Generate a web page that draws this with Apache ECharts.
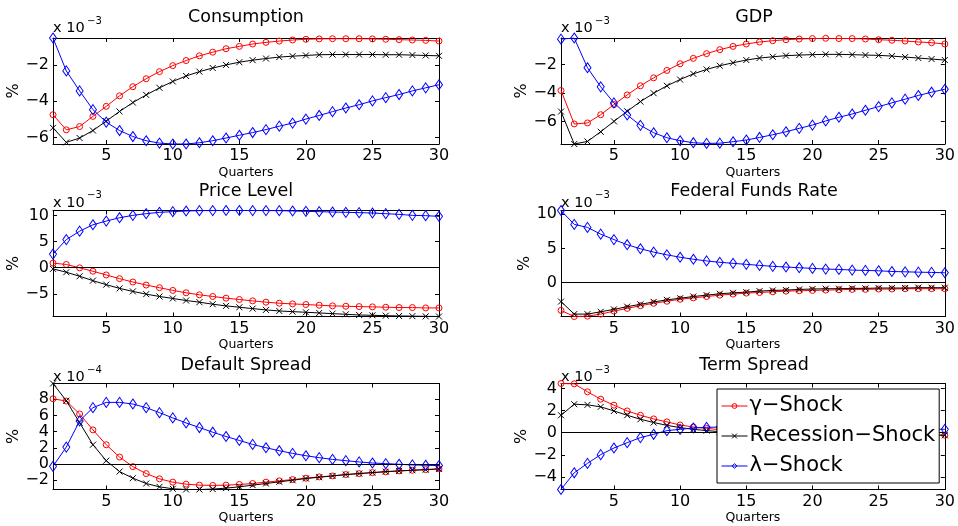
<!DOCTYPE html>
<html>
<head>
<meta charset="utf-8">
<script src="https://cdn.jsdelivr.net/npm/echarts@6/dist/echarts.min.js"></script>
<style>
  html, body { margin: 0; padding: 0; background: #ffffff; }
  #chart { width: 958px; height: 526px; }
</style>
</head>
<body>
<div id="chart"></div>
<script>
// Impulse responses over 30 quarters for three shocks.
const quarters = [1, 2, 3, 4, 5, 6, 7, 8, 9, 10, 11, 12, 13, 14, 15, 16, 17, 18, 19, 20, 21, 22, 23, 24, 25, 26, 27, 28, 29, 30];
const quarterTicks = [5, 10, 15, 20, 25, 30];
const shockNames = ['γ−Shock', 'Recession−Shock', 'λ−Shock'];

// Consumption (x 10^-3 %)
const consGamma = [-4.74, -5.57, -5.39, -4.83, -4.28, -3.70, -3.20, -2.76, -2.37, -2.04, -1.76, -1.50, -1.30, -1.11, -0.98, -0.85, -0.76, -0.69, -0.63, -0.59, -0.57, -0.56, -0.56, -0.56, -0.57, -0.59, -0.61, -0.63, -0.65, -0.69];
const consRecession = [-5.46, -6.26, -6.02, -5.61, -5.09, -4.56, -4.07, -3.65, -3.26, -2.91, -2.61, -2.37, -2.17, -2.00, -1.85, -1.74, -1.65, -1.57, -1.52, -1.48, -1.44, -1.43, -1.43, -1.43, -1.43, -1.44, -1.44, -1.46, -1.48, -1.50];
const consLambda = [-0.52, -2.33, -3.43, -4.46, -5.15, -5.61, -5.94, -6.17, -6.30, -6.35, -6.35, -6.28, -6.17, -6.02, -5.87, -5.72, -5.56, -5.37, -5.20, -4.98, -4.78, -4.57, -4.37, -4.19, -3.98, -3.80, -3.63, -3.43, -3.26, -3.09];
const consTicks = [-6, -4, -2];

// GDP (x 10^-3 %)
const gdpGamma = [-3.81, -6.16, -6.09, -5.51, -4.80, -4.12, -3.48, -2.92, -2.40, -1.93, -1.55, -1.22, -0.94, -0.71, -0.54, -0.40, -0.31, -0.24, -0.19, -0.16, -0.14, -0.16, -0.16, -0.19, -0.24, -0.28, -0.33, -0.40, -0.45, -0.54];
const gdpRecession = [-5.29, -7.57, -7.39, -6.71, -5.98, -5.27, -4.59, -4.00, -3.48, -3.04, -2.64, -2.33, -2.07, -1.86, -1.67, -1.53, -1.44, -1.36, -1.32, -1.29, -1.27, -1.27, -1.29, -1.32, -1.34, -1.39, -1.46, -1.53, -1.60, -1.67];
const gdpLambda = [-0.20, -0.12, -2.21, -3.55, -4.68, -5.53, -6.26, -6.78, -7.13, -7.34, -7.48, -7.53, -7.51, -7.41, -7.29, -7.11, -6.92, -6.71, -6.47, -6.24, -5.95, -5.69, -5.46, -5.20, -4.94, -4.68, -4.42, -4.16, -3.93, -3.72];
const gdpTicks = [-6, -4, -2];

// Price Level (x 10^-3 %)
const priceGamma = [0.86, 0.60, -0.04, -0.69, -1.40, -2.11, -2.75, -3.33, -3.84, -4.36, -4.81, -5.20, -5.52, -5.84, -6.10, -6.36, -6.61, -6.81, -6.94, -7.06, -7.19, -7.32, -7.39, -7.45, -7.51, -7.58, -7.64, -7.64, -7.71, -7.71];
const priceRecession = [-0.24, -0.88, -1.65, -2.49, -3.26, -3.97, -4.55, -5.07, -5.52, -5.90, -6.29, -6.61, -7.00, -7.32, -7.58, -7.84, -8.09, -8.29, -8.42, -8.54, -8.67, -8.80, -8.93, -9.06, -9.12, -9.19, -9.25, -9.28, -9.32, -9.35];
const priceLambda = [2.59, 5.36, 6.97, 8.20, 8.91, 9.55, 10.00, 10.32, 10.58, 10.71, 10.84, 10.90, 10.92, 10.93, 10.93, 10.92, 10.91, 10.90, 10.84, 10.77, 10.71, 10.64, 10.58, 10.52, 10.45, 10.32, 10.19, 10.00, 9.94, 9.81];
const priceTicks = [-5, 0, 5, 10];

// Federal Funds Rate (x 10^-3 %)
const ffrGamma = [-4.06, -4.95, -4.90, -4.60, -4.16, -3.76, -3.37, -3.02, -2.72, -2.43, -2.23, -2.03, -1.83, -1.68, -1.53, -1.44, -1.34, -1.24, -1.19, -1.14, -1.09, -1.04, -0.99, -0.99, -0.94, -0.94, -0.89, -0.89, -0.89, -0.89];
const ffrRecession = [-2.77, -4.60, -4.60, -4.26, -3.91, -3.51, -3.17, -2.82, -2.52, -2.28, -2.03, -1.83, -1.63, -1.49, -1.39, -1.24, -1.14, -1.09, -0.99, -0.94, -0.89, -0.89, -0.84, -0.84, -0.79, -0.79, -0.79, -0.74, -0.74, -0.74];
const ffrLambda = [10.54, 8.51, 8.07, 7.08, 6.29, 5.54, 4.95, 4.46, 4.06, 3.71, 3.42, 3.17, 2.97, 2.82, 2.67, 2.52, 2.38, 2.28, 2.18, 2.08, 1.98, 1.93, 1.83, 1.78, 1.73, 1.63, 1.58, 1.53, 1.49, 1.44];
const ffrTicks = [0, 5, 10];

// Default Spread (x 10^-4 %)
const dsGamma = [8.07, 7.79, 6.19, 4.22, 2.38, 0.86, -0.33, -1.19, -1.84, -2.25, -2.50, -2.62, -2.66, -2.62, -2.54, -2.42, -2.25, -2.09, -1.93, -1.76, -1.60, -1.48, -1.31, -1.19, -1.07, -0.98, -0.86, -0.78, -0.70, -0.61];
const dsRecession = [9.96, 7.83, 5.10, 2.38, 0.41, -0.94, -1.76, -2.42, -2.83, -3.07, -3.16, -3.16, -3.11, -2.99, -2.83, -2.62, -2.42, -2.21, -2.01, -1.80, -1.64, -1.48, -1.31, -1.19, -1.07, -0.94, -0.86, -0.78, -0.70, -0.61];
const dsLambda = [-0.29, 2.09, 5.33, 6.97, 7.62, 7.62, 7.42, 6.97, 6.35, 5.70, 5.08, 4.51, 3.93, 3.40, 2.91, 2.42, 2.01, 1.64, 1.31, 1.02, 0.78, 0.57, 0.41, 0.25, 0.12, 0.04, -0.04, -0.12, -0.16, -0.20];
const dsTicks = [-2, 0, 2, 4, 6, 8];

// Term Spread (x 10^-3 %)
const tsGamma = [4.44, 4.41, 3.69, 3.02, 2.48, 1.96, 1.57, 1.24, 0.97, 0.69, 0.51, 0.38, 0.27, 0.18, 0.11, 0.05, 0.01, -0.03, -0.06, -0.09, -0.11, -0.13, -0.15, -0.17, -0.18, -0.19, -0.20, -0.21, -0.22, -0.23];
const tsRecession = [1.57, 2.57, 2.51, 2.33, 1.96, 1.57, 1.21, 0.91, 0.66, 0.45, 0.30, 0.18, 0.09, 0.02, -0.03, -0.07, -0.10, -0.12, -0.14, -0.16, -0.17, -0.18, -0.19, -0.20, -0.21, -0.21, -0.22, -0.22, -0.23, -0.24];
const tsLambda = [-5.14, -3.63, -2.78, -1.99, -1.39, -0.91, -0.45, -0.15, 0.18, 0.30, 0.42, 0.48, 0.50, 0.50, 0.50, 0.49, 0.48, 0.47, 0.46, 0.45, 0.43, 0.42, 0.40, 0.39, 0.37, 0.36, 0.35, 0.33, 0.32, 0.30];
const tsTicks = [-4, -2, 0, 2, 4];

const panelTitles = ['Consumption', 'GDP', 'Price Level', 'Federal Funds Rate', 'Default Spread', 'Term Spread'];
const panelExponents = ['−3', '−3', '−3', '−3', '−4', '−3'];
const panelSeries = [
  [consGamma, consRecession, consLambda],
  [gdpGamma, gdpRecession, gdpLambda],
  [priceGamma, priceRecession, priceLambda],
  [ffrGamma, ffrRecession, ffrLambda],
  [dsGamma, dsRecession, dsLambda],
  [tsGamma, tsRecession, tsLambda]
];
const panelTicks = [consTicks, gdpTicks, priceTicks, ffrTicks, dsTicks, tsTicks];
const panelZeroLine = [false, false, true, true, true, true];

// ---- layout and styling ----
const FONT = 'DejaVu Sans';
const colLeft = [53, 561];
const rowTop = [38, 210.5, 383.5];
const plotW = 386;
const plotH = 106;
const titleY = [17, 191, 365];
const multY = [21, 195.5, 370];
const NOFILL = 'rgba(255,255,255,0)';

const lineStyles = [
  { color: '#ff0000', symbol: 'circle', symbolSize: 6 },
  { color: '#000000', symbol: 'path://M0,0L10,10M10,0L0,10', symbolSize: 6 },
  { color: '#0000ff', symbol: 'diamond', symbolSize: [7, 10] }
];

const minus = v => String(v).replace('-', '−');

const grids = [], xAxes = [], yAxes = [], series = [], graphics = [];

panelTitles.forEach((title, i) => {
  const col = i % 2, row = Math.floor(i / 2);
  const left = colLeft[col], top = rowTop[row];
  grids.push({ left: left, top: top, width: plotW, height: plotH, containLabel: false });

  const all = [].concat(...panelSeries[i]);
  const yMin = Math.min(...all), yMax = Math.max(...all);
  const ticks = panelTicks[i];

  const axisLine = { show: true, onZero: false, lineStyle: { color: '#000', width: 1 } };
  const tickX = { show: true, inside: true, length: 4, customValues: quarterTicks, lineStyle: { color: '#000', width: 1 } };
  const tickY = { show: true, inside: true, length: 4, customValues: ticks, lineStyle: { color: '#000', width: 1 } };

  xAxes.push({
    type: 'value', gridIndex: i, min: 1, max: 30, position: 'bottom',
    axisLine: axisLine, axisTick: tickX, splitLine: { show: false },
    axisLabel: { customValues: quarterTicks, fontSize: 16, color: '#000', fontFamily: FONT, margin: 4 },
    name: 'Quarters', nameLocation: 'middle', nameGap: 22,
    nameTextStyle: { fontSize: 12.5, color: '#000', fontFamily: FONT }
  });
  xAxes.push({
    type: 'value', gridIndex: i, min: 1, max: 30, position: 'top',
    axisLine: axisLine, axisTick: tickX, splitLine: { show: false },
    axisLabel: { show: false }
  });
  yAxes.push({
    type: 'value', gridIndex: i, min: yMin, max: yMax, position: 'left',
    axisLine: axisLine, axisTick: tickY, splitLine: { show: false },
    axisLabel: { customValues: ticks, formatter: minus, fontSize: 16, color: '#000', fontFamily: FONT, margin: 4 },
    name: '%', nameLocation: 'middle', nameGap: 25,
    nameTextStyle: { fontSize: 16, color: '#000', fontFamily: FONT }
  });
  yAxes.push({
    type: 'value', gridIndex: i, min: yMin, max: yMax, position: 'right',
    axisLine: axisLine, axisTick: tickY, splitLine: { show: false },
    axisLabel: { show: false }
  });

  panelSeries[i].forEach((vals, k) => {
    const st = lineStyles[k];
    const s = {
      type: 'line', name: shockNames[k],
      xAxisIndex: 2 * i, yAxisIndex: 2 * i,
      data: quarters.map((q, j) => [q, vals[j]]),
      symbol: st.symbol, symbolSize: st.symbolSize, showSymbol: true, showAllSymbol: true,
      lineStyle: { color: st.color, width: 1 },
      itemStyle: { color: NOFILL, borderColor: st.color, borderWidth: 1 },
      emphasis: { disabled: true },
      animation: false, z: 2 + k
    };
    if (k === 0 && panelZeroLine[i]) {
      s.markLine = {
        silent: true, symbol: 'none', label: { show: false }, animation: false,
        lineStyle: { color: '#000', width: 1, type: 'solid' },
        data: [{ yAxis: 0 }]
      };
    }
    series.push(s);
  });

  // panel title
  graphics.push({
    type: 'text', x: left + plotW / 2, y: titleY[row], silent: true,
    style: { text: title, align: 'center', verticalAlign: 'middle', fontSize: 17.5, fontFamily: FONT, fill: '#000' }
  });
  // scale multiplier "x 10^n"
  graphics.push({
    type: 'text', x: left, y: multY[row], silent: true,
    style: { text: 'x 10', align: 'left', verticalAlign: 'top', fontSize: 14.5, fontFamily: FONT, fill: '#000' }
  });
  graphics.push({
    type: 'text', x: left + 34, y: multY[row] - 5, silent: true,
    style: { text: panelExponents[i], align: 'left', verticalAlign: 'top', fontSize: 10, fontFamily: FONT, fill: '#000' }
  });
});

const chart = echarts.init(document.getElementById('chart'), null, { renderer: 'canvas' });
chart.setOption({
  backgroundColor: '#ffffff',
  animation: false,
  grid: grids,
  xAxis: xAxes,
  yAxis: yAxes,
  series: series,
  graphic: graphics,
  legend: {
    data: shockNames,
    orient: 'vertical',
    left: 717, top: 389,
    padding: [2, 4, 2, 4],
    itemGap: 0,
    itemWidth: 26, itemHeight: 6,
    backgroundColor: '#ffffff',
    borderColor: '#000000', borderWidth: 1, borderRadius: 0,
    selectedMode: false,
    z: 10,
    lineStyle: { width: 1 },
    itemStyle: { borderWidth: 1 },
    textStyle: { fontSize: 21, lineHeight: 30, color: '#000', fontFamily: FONT, padding: [0, 0, 0, -3] }
  }
});
</script>
</body>
</html>
